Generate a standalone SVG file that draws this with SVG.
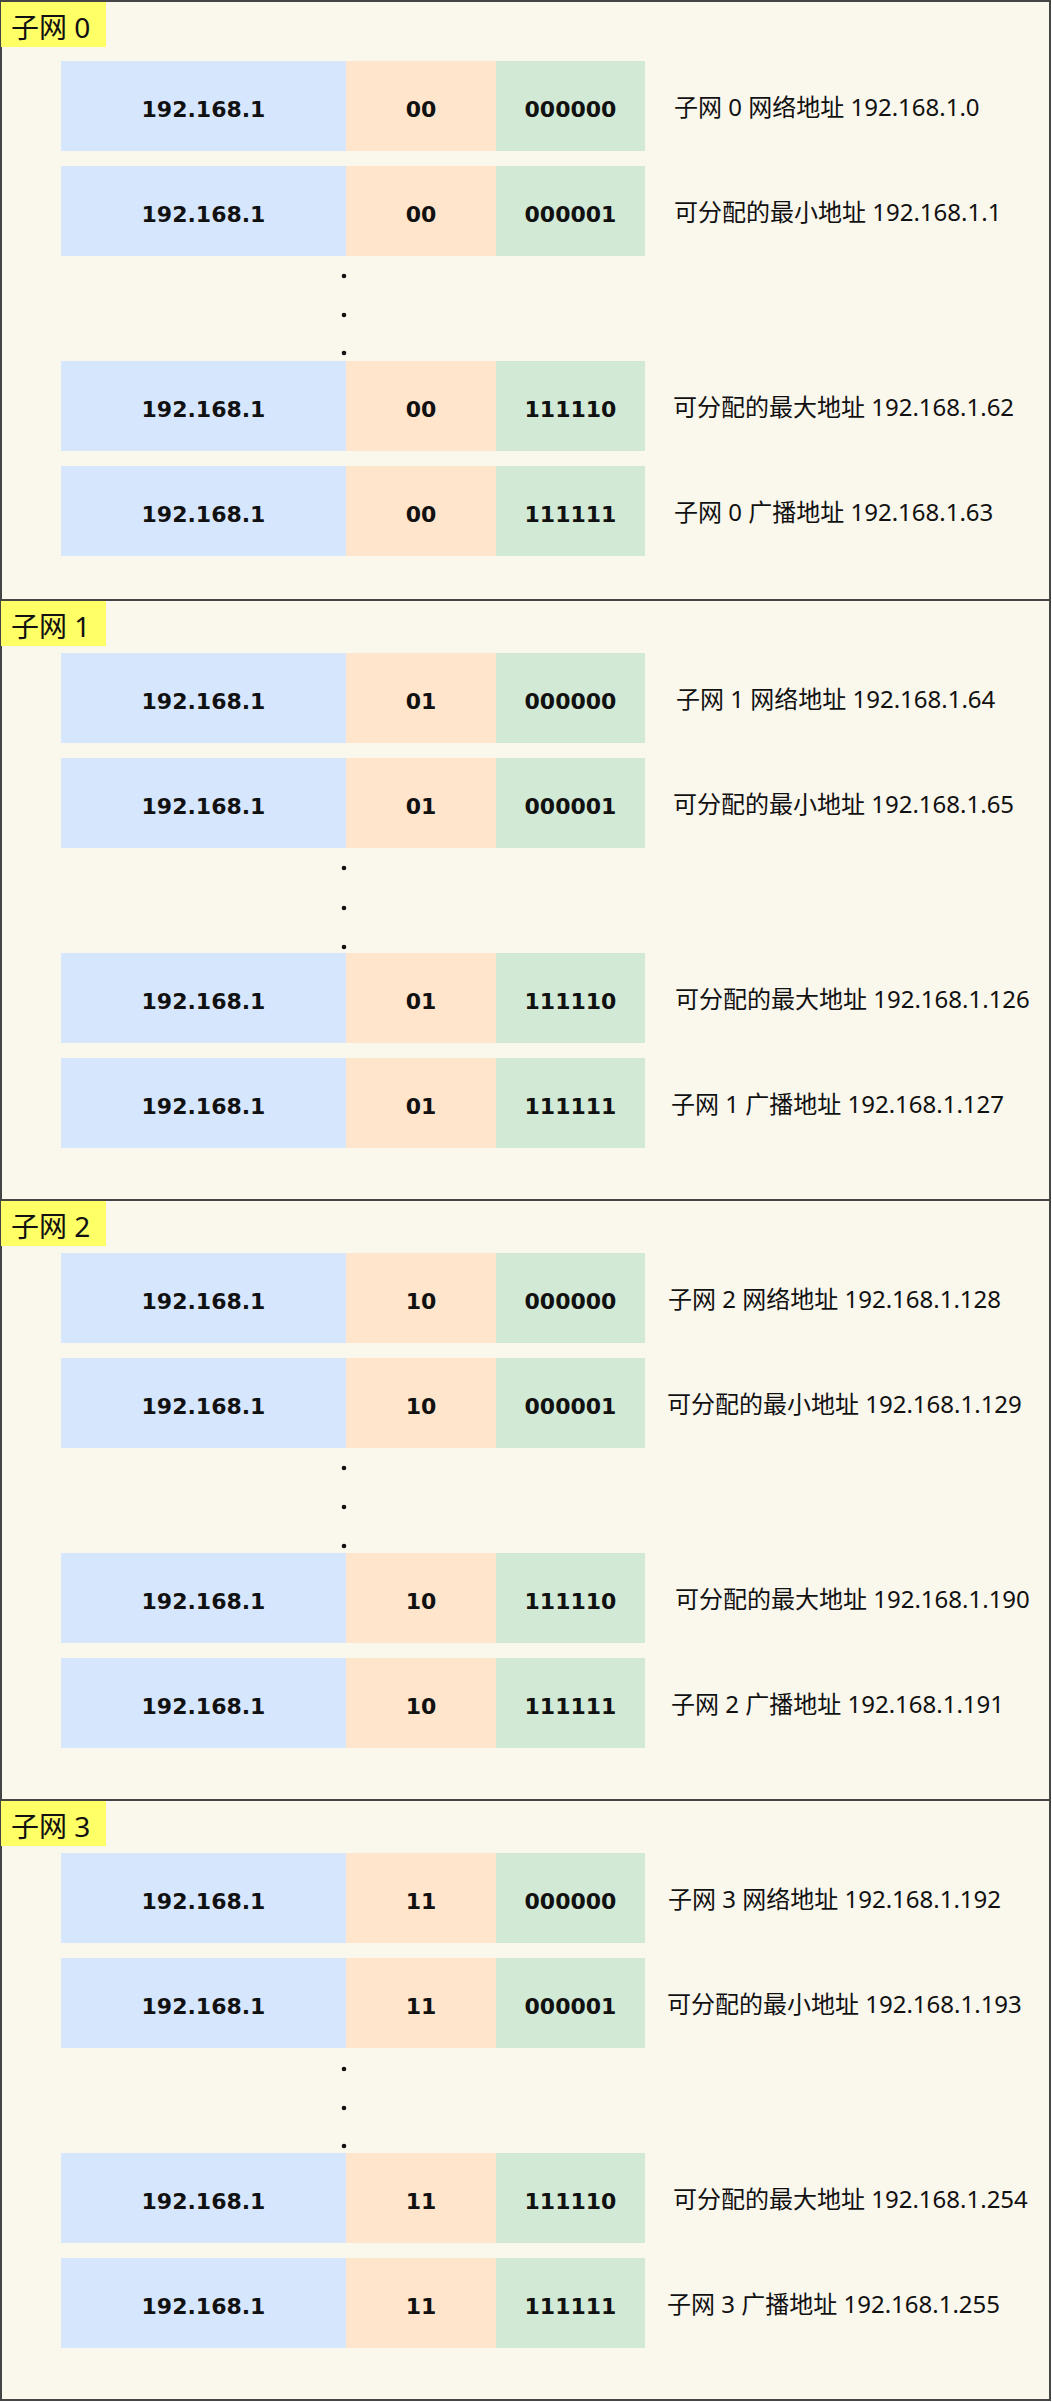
<svg xmlns="http://www.w3.org/2000/svg" width="1052" height="2402" viewBox="0 0 1052 2402">
<style>
.frame{fill:#faf7ed;stroke:#454545;stroke-width:2}
.tag{fill:#ffff66}
.tagt{font-family:"Noto Sans","Noto Sans CJK SC",sans-serif;font-size:28px;fill:#111}
.b{fill:#d6e6fc}
.o{fill:#ffe5cc}
.g{fill:#d2e9d5}
.ct{font-family:"DejaVu Sans",sans-serif;font-weight:bold;font-size:22px;fill:#111;text-anchor:middle}
.rt{font-family:"Noto Sans","Noto Sans CJK SC",sans-serif;font-size:24px;fill:#111}
.dot{fill:#111}
</style>
<defs>
<g id="cells">
<rect class="b" x="61" y="0" width="285" height="90"/>
<rect class="o" x="346" y="0" width="150" height="90"/>
<rect class="g" x="496" y="0" width="149" height="90"/>
</g>
</defs>

<g id="subnet0">
<rect class="frame" x="1" y="1" width="1049" height="599"/>
<rect class="tag" x="1" y="2" width="105" height="45"/>
<text class="tagt" x="11" y="38">子网 0</text>
<g id="s0r1" transform="translate(0,61)"><use href="#cells"/><text class="ct" x="203.5" y="56">192.168.1</text><text class="ct" x="421" y="56">00</text><text class="ct" x="570.5" y="56">000000</text><text class="rt" x="674" y="55">子网 0 网络地址 192.168.1.0</text></g>
<g id="s0r2" transform="translate(0,166)"><use href="#cells"/><text class="ct" x="203.5" y="56">192.168.1</text><text class="ct" x="421" y="56">00</text><text class="ct" x="570.5" y="56">000001</text><text class="rt" x="674" y="55">可分配的最小地址 192.168.1.1</text></g>
<g id="s0dots"><circle class="dot" cx="344" cy="276" r="2.3"/><circle class="dot" cx="344" cy="315" r="2.3"/><circle class="dot" cx="344" cy="353" r="2.3"/></g>
<g id="s0r3" transform="translate(0,361)"><use href="#cells"/><text class="ct" x="203.5" y="56">192.168.1</text><text class="ct" x="421" y="56">00</text><text class="ct" x="570.5" y="56">111110</text><text class="rt" x="673" y="55">可分配的最大地址 192.168.1.62</text></g>
<g id="s0r4" transform="translate(0,466)"><use href="#cells"/><text class="ct" x="203.5" y="56">192.168.1</text><text class="ct" x="421" y="56">00</text><text class="ct" x="570.5" y="56">111111</text><text class="rt" x="674" y="55">子网 0 广播地址 192.168.1.63</text></g>
</g>

<g id="subnet1">
<rect class="frame" x="1" y="600" width="1049" height="600"/>
<rect class="tag" x="1" y="601" width="105" height="45"/>
<text class="tagt" x="11" y="637">子网 1</text>
<g id="s1r1" transform="translate(0,653)"><use href="#cells"/><text class="ct" x="203.5" y="56">192.168.1</text><text class="ct" x="421" y="56">01</text><text class="ct" x="570.5" y="56">000000</text><text class="rt" x="676" y="55">子网 1 网络地址 192.168.1.64</text></g>
<g id="s1r2" transform="translate(0,758)"><use href="#cells"/><text class="ct" x="203.5" y="56">192.168.1</text><text class="ct" x="421" y="56">01</text><text class="ct" x="570.5" y="56">000001</text><text class="rt" x="673" y="55">可分配的最小地址 192.168.1.65</text></g>
<g id="s1dots"><circle class="dot" cx="344" cy="868" r="2.3"/><circle class="dot" cx="344" cy="908" r="2.3"/><circle class="dot" cx="344" cy="947" r="2.3"/></g>
<g id="s1r3" transform="translate(0,953)"><use href="#cells"/><text class="ct" x="203.5" y="56">192.168.1</text><text class="ct" x="421" y="56">01</text><text class="ct" x="570.5" y="56">111110</text><text class="rt" x="675" y="55">可分配的最大地址 192.168.1.126</text></g>
<g id="s1r4" transform="translate(0,1058)"><use href="#cells"/><text class="ct" x="203.5" y="56">192.168.1</text><text class="ct" x="421" y="56">01</text><text class="ct" x="570.5" y="56">111111</text><text class="rt" x="671" y="55">子网 1 广播地址 192.168.1.127</text></g>
</g>

<g id="subnet2">
<rect class="frame" x="1" y="1200" width="1049" height="600"/>
<rect class="tag" x="1" y="1201" width="105" height="45"/>
<text class="tagt" x="11" y="1237">子网 2</text>
<g id="s2r1" transform="translate(0,1253)"><use href="#cells"/><text class="ct" x="203.5" y="56">192.168.1</text><text class="ct" x="421" y="56">10</text><text class="ct" x="570.5" y="56">000000</text><text class="rt" x="668" y="55">子网 2 网络地址 192.168.1.128</text></g>
<g id="s2r2" transform="translate(0,1358)"><use href="#cells"/><text class="ct" x="203.5" y="56">192.168.1</text><text class="ct" x="421" y="56">10</text><text class="ct" x="570.5" y="56">000001</text><text class="rt" x="667" y="55">可分配的最小地址 192.168.1.129</text></g>
<g id="s2dots"><circle class="dot" cx="344" cy="1468" r="2.3"/><circle class="dot" cx="344" cy="1507" r="2.3"/><circle class="dot" cx="344" cy="1546" r="2.3"/></g>
<g id="s2r3" transform="translate(0,1553)"><use href="#cells"/><text class="ct" x="203.5" y="56">192.168.1</text><text class="ct" x="421" y="56">10</text><text class="ct" x="570.5" y="56">111110</text><text class="rt" x="675" y="55">可分配的最大地址 192.168.1.190</text></g>
<g id="s2r4" transform="translate(0,1658)"><use href="#cells"/><text class="ct" x="203.5" y="56">192.168.1</text><text class="ct" x="421" y="56">10</text><text class="ct" x="570.5" y="56">111111</text><text class="rt" x="671" y="55">子网 2 广播地址 192.168.1.191</text></g>
</g>

<g id="subnet3">
<rect class="frame" x="1" y="1800" width="1049" height="600"/>
<rect class="tag" x="1" y="1801" width="105" height="45"/>
<text class="tagt" x="11" y="1837">子网 3</text>
<g id="s3r1" transform="translate(0,1853)"><use href="#cells"/><text class="ct" x="203.5" y="56">192.168.1</text><text class="ct" x="421" y="56">11</text><text class="ct" x="570.5" y="56">000000</text><text class="rt" x="668" y="55">子网 3 网络地址 192.168.1.192</text></g>
<g id="s3r2" transform="translate(0,1958)"><use href="#cells"/><text class="ct" x="203.5" y="56">192.168.1</text><text class="ct" x="421" y="56">11</text><text class="ct" x="570.5" y="56">000001</text><text class="rt" x="667" y="55">可分配的最小地址 192.168.1.193</text></g>
<g id="s3dots"><circle class="dot" cx="344" cy="2069" r="2.3"/><circle class="dot" cx="344" cy="2108" r="2.3"/><circle class="dot" cx="344" cy="2146" r="2.3"/></g>
<g id="s3r3" transform="translate(0,2153)"><use href="#cells"/><text class="ct" x="203.5" y="56">192.168.1</text><text class="ct" x="421" y="56">11</text><text class="ct" x="570.5" y="56">111110</text><text class="rt" x="673" y="55">可分配的最大地址 192.168.1.254</text></g>
<g id="s3r4" transform="translate(0,2258)"><use href="#cells"/><text class="ct" x="203.5" y="56">192.168.1</text><text class="ct" x="421" y="56">11</text><text class="ct" x="570.5" y="56">111111</text><text class="rt" x="667" y="55">子网 3 广播地址 192.168.1.255</text></g>
</g>

<g id="connectors"/>
</svg>
